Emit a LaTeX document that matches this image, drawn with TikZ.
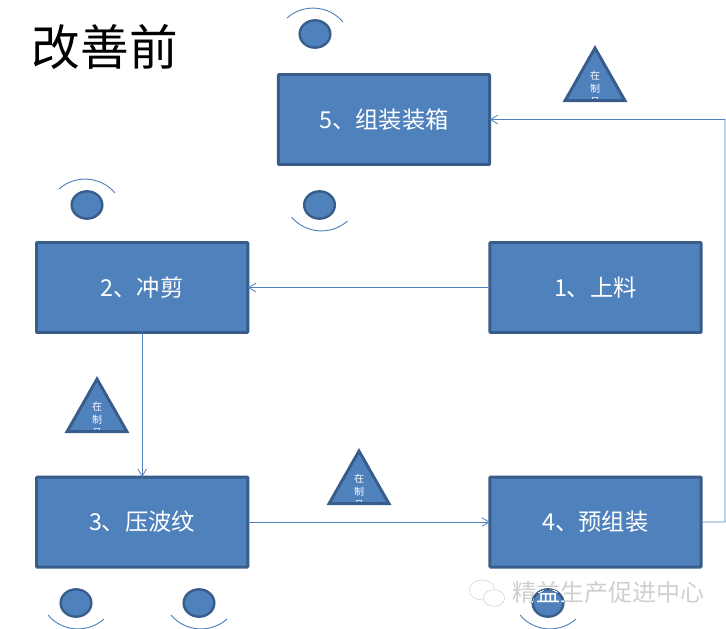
\documentclass[tikz,border=0pt]{standalone}
\usepackage{fontspec}
\setmainfont{Noto Sans CJK SC}
\usepackage{tikz}
\usetikzlibrary{arrows.meta,positioning,shapes.geometric}
\definecolor{BoxBlue}{HTML}{4F81BD}
\definecolor{EdgeBlue}{HTML}{385D8A}
\definecolor{MarkGray}{HTML}{CFCFCF}

\begin{document}
\begin{tikzpicture}[
  x=0.75pt, y=-0.75pt,
  node distance=108.4pt and 181.5pt,
  stepbox/.style={draw=EdgeBlue, fill=BoxBlue, line width=2.2pt, outer sep=0pt, rounded corners=0.6pt,
    minimum width=158.5pt, minimum height=67.5pt, align=center, text=white, font=\fontsize{17.5}{20}\selectfont},
  seat/.style={ellipse, draw=EdgeBlue, fill=BoxBlue, line width=1.8pt, inner sep=0pt,
    minimum width=23pt, minimum height=20.5pt},
  gaze/.style={draw=BoxBlue, line width=0.7pt},
  lotmark/.style={isosceles triangle, isosceles triangle apex angle=58, isosceles triangle stretches,
    shape border rotate=90, draw=EdgeBlue, fill=BoxBlue, line width=2.2pt, inner sep=0pt, anchor=apex,
    minimum width=45pt, minimum height=39.5pt,
    path picture={\node[text=white, align=center, inner sep=0pt, anchor=north,
      font=\fontsize{7.5}{9.8}\selectfont] at ([yshift=-3.8pt]path picture bounding box.north) {在\\制\\品};}},
  flow/.style={-{Straight Barb[length=5.5pt,width=6.5pt]}, line width=0.6pt, draw=BoxBlue}
]
\useasboundingbox (0,0) rectangle (726,629);
\node[font=\fontsize{36.5}{40}\selectfont, anchor=west] (title) at (27,47) {改善前};

\node[stepbox] (pack) at (384,119.5) {5、组装装箱};
\node[stepbox] (feed) at (595.5,287.5) {1、上料};
\node[stepbox, left=of feed] (shear) {2、冲剪};
\node[stepbox, below=of shear] (press) {3、压波纹};
\node[stepbox, right=of press] (preasm) {4、预组装};
\coordinate (bend1) at (725,522);
\coordinate (bend2) at (725,119.5);

\draw[flow] (feed) -- (shear);
\draw[flow] (shear) -- (press);
\draw[flow] (press) -- (preasm);
\draw[flow] (preasm.east) -- (bend1) -- (bend2) -- (pack.east);

\node[lotmark] (wipA) at (595,45) {};
\node[lotmark] (wipB) at (97,376) {};
\node[lotmark] (wipC) at (359,448) {};

\node[text=MarkGray, font=\fontsize{18}{20}\selectfont, anchor=west] (mark) at (508,592) {精益生产促进中心};
\node[draw=MarkGray, ellipse, minimum width=19pt, minimum height=15pt, inner sep=0pt] (chatA) at (482,590) {};
\node[draw=MarkGray, fill=white, ellipse, minimum width=16pt, minimum height=12.5pt, inner sep=0pt] (chatB) at (494,598) {};

\node[seat] (seatA) at (315,34) {};
\node[seat] (seatB) at (87,205) {};
\node[seat] (seatC) at (319.5,205) {};
\node[seat] (seatD) at (76,603) {};
\node[seat] (seatE) at (199,603) {};
\node[seat] (seatF) at (548,603) {};
\begin{scope}
  \clip (548,603) ellipse[x radius=16, y radius=14];
  \node[text=white, font=\fontsize{18}{20}\selectfont, anchor=west] at (508,592) {精益生产促进中心};
\end{scope}

\draw[gaze] ([shift={(-28,-16)}]seatA.center) to[bend left=46] ([shift={(28,-12)}]seatA.center);
\draw[gaze] ([shift={(-28,-16)}]seatB.center) to[bend left=46] ([shift={(28,-12)}]seatB.center);
\draw[gaze] ([shift={(-28,12)}]seatC.center) to[bend right=46] ([shift={(28,16)}]seatC.center);
\draw[gaze] ([shift={(-28,12)}]seatD.center) to[bend right=46] ([shift={(28,16)}]seatD.center);
\draw[gaze] ([shift={(-28,12)}]seatE.center) to[bend right=46] ([shift={(28,16)}]seatE.center);
\draw[gaze] ([shift={(-28,12)}]seatF.center) to[bend right=46] ([shift={(28,16)}]seatF.center);
\end{tikzpicture}
\end{document}
